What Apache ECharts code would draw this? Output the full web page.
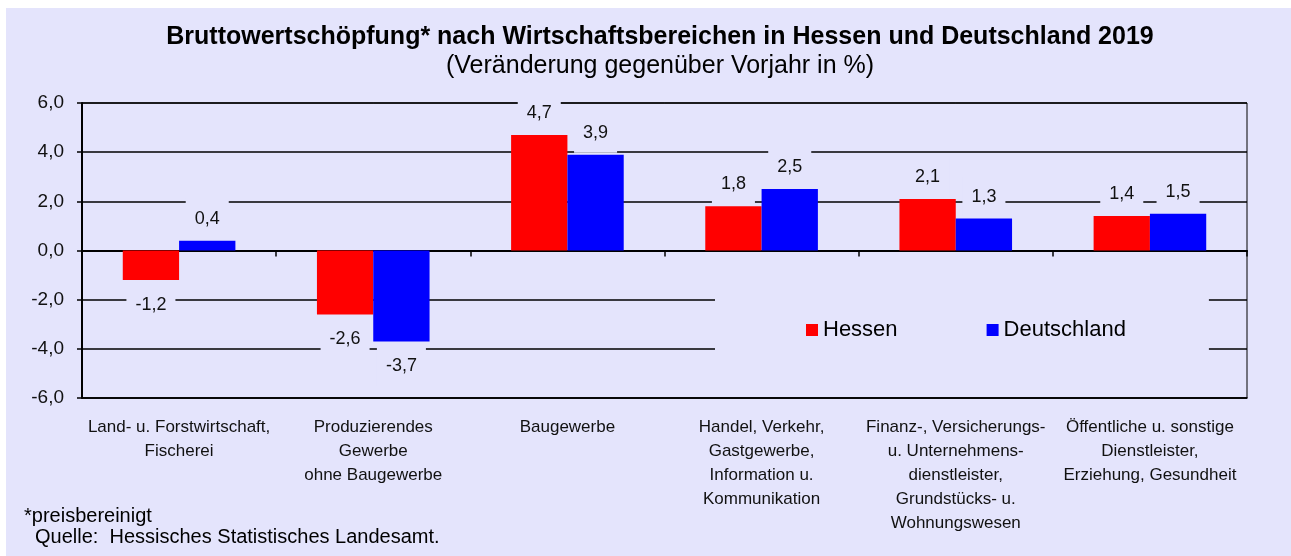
<!DOCTYPE html>
<html>
<head>
<meta charset="utf-8">
<script src="https://cdn.jsdelivr.net/npm/echarts@6/dist/echarts.min.js"></script>
<style>
  html, body { margin: 0; padding: 0; background: #fff; }
  #chart { width: 1291px; height: 556px; }
</style>
</head>
<body>
<div id="chart"></div>
<script>
// Daten
const categories = [
  'Land- u. Forstwirtschaft,\nFischerei',
  'Produzierendes\nGewerbe\nohne Baugewerbe',
  'Baugewerbe',
  'Handel, Verkehr,\nGastgewerbe,\nInformation u.\nKommunikation',
  'Finanz-, Versicherungs-\nu. Unternehmens-\ndienstleister,\nGrundstücks- u.\nWohnungswesen',
  'Öffentliche u. sonstige\nDienstleister,\nErziehung, Gesundheit'
];
const hessen = [-1.2, -2.6, 4.7, 1.8, 2.1, 1.4];
const deutschland = [0.4, -3.7, 3.9, 2.5, 1.3, 1.5];
const yTicks = [-6, -4, -2, 0, 2, 4, 6];

const bg = '#E4E4FC';
const font = '"Liberation Sans", Arial, sans-serif';
const fmt = v => v.toFixed(1).replace('.', ',');

// Label oben bei positiven, unten bei negativen Werten
const toItems = arr => arr.map(v => ({
  value: v,
  label: v < 0 ? { position: 'bottom', distance: 5 } : { position: 'top' }
}));

const labelStyle = {
  show: true,
  distance: 2,
  formatter: p => fmt(p.value),
  color: '#111',
  fontSize: 18,
  fontFamily: font,
  backgroundColor: bg,
  padding: [11, 9]
};

const chart = echarts.init(document.getElementById('chart'));

const option = {
  backgroundColor: bg,
  animation: false,
  textStyle: { fontFamily: font },
  graphic: [
    { type: 'rect', shape: { x: 0, y: 0, width: 1291, height: 8 }, style: { fill: '#fff' }, silent: true },
    { type: 'rect', shape: { x: 0, y: 0, width: 6, height: 556 }, style: { fill: '#fff' }, silent: true },
    {
      type: 'text', x: 660, y: 37,
      style: {
        text: 'Bruttowertschöpfung* nach Wirtschaftsbereichen in Hessen und Deutschland 2019',
        align: 'center', verticalAlign: 'middle',
        fontSize: 25, fontWeight: 'bold', fontFamily: font, fill: '#000'
      }
    },
    {
      type: 'text', x: 660, y: 66,
      style: {
        text: '(Veränderung gegenüber Vorjahr in %)',
        align: 'center', verticalAlign: 'middle',
        fontSize: 25, fontFamily: font, fill: '#000'
      }
    },
    {
      type: 'text', x: 24, y: 516,
      style: { text: '*preisbereinigt', verticalAlign: 'middle', fontSize: 20, fontFamily: font, fill: '#000' }
    },
    {
      type: 'text', x: 35, y: 537,
      style: { text: 'Quelle:  Hessisches Statistisches Landesamt.', verticalAlign: 'middle', fontSize: 20, fontFamily: font, fill: '#000' }
    }
  ],
  legend: {
    left: 715,
    top: 285,
    padding: [34, 83, 34, 91],
    backgroundColor: bg,
    itemWidth: 12,
    itemHeight: 12,
    itemGap: 89,
    icon: 'rect',
    textStyle: { fontSize: 22, color: '#000', fontFamily: font },
    data: ['Hessen', 'Deutschland']
  },
  grid: {
    left: 82,
    right: 44,
    top: 103,
    bottom: 158,
    show: true,
    borderColor: '#000',
    borderWidth: 1
  },
  xAxis: [
    {
      type: 'category',
      data: categories,
      position: 'bottom',
      axisLine: { onZero: false, lineStyle: { color: '#000', width: 1.5 } },
      axisTick: { show: false },
      axisLabel: {
        interval: 0,
        margin: 17,
        fontSize: 17,
        lineHeight: 24,
        color: '#111',
        fontFamily: font
      }
    },
    {
      type: 'category',
      data: categories,
      position: 'top',
      axisLine: { onZero: true, lineStyle: { color: '#000', width: 2 } },
      axisTick: { show: true, inside: true, length: 6, lineStyle: { color: '#000', width: 1.5 } },
      axisLabel: { show: false }
    }
  ],
  yAxis: {
    type: 'value',
    min: yTicks[0],
    max: yTicks[yTicks.length - 1],
    interval: 2,
    axisLine: { show: true, lineStyle: { color: '#000', width: 2 } },
    axisTick: { show: true, length: 5, lineStyle: { color: '#000', width: 1.5 } },
    axisLabel: {
      formatter: v => fmt(v),
      fontSize: 19,
      margin: 18,
      color: '#111',
      fontFamily: font
    },
    splitLine: { show: true, lineStyle: { color: '#000', width: 1.5 } }
  },
  series: [
    {
      name: 'Hessen',
      type: 'bar',
      data: toItems(hessen),
      barGap: '0%',
      barCategoryGap: '42%',
      itemStyle: { color: '#FF0000' },
      label: labelStyle
    },
    {
      name: 'Deutschland',
      type: 'bar',
      data: toItems(deutschland),
      barGap: '0%',
      barCategoryGap: '42%',
      itemStyle: { color: '#0000FF' },
      label: labelStyle
    }
  ]
};

chart.setOption(option);
window.addEventListener('resize', () => chart.resize());
</script>
</body>
</html>
